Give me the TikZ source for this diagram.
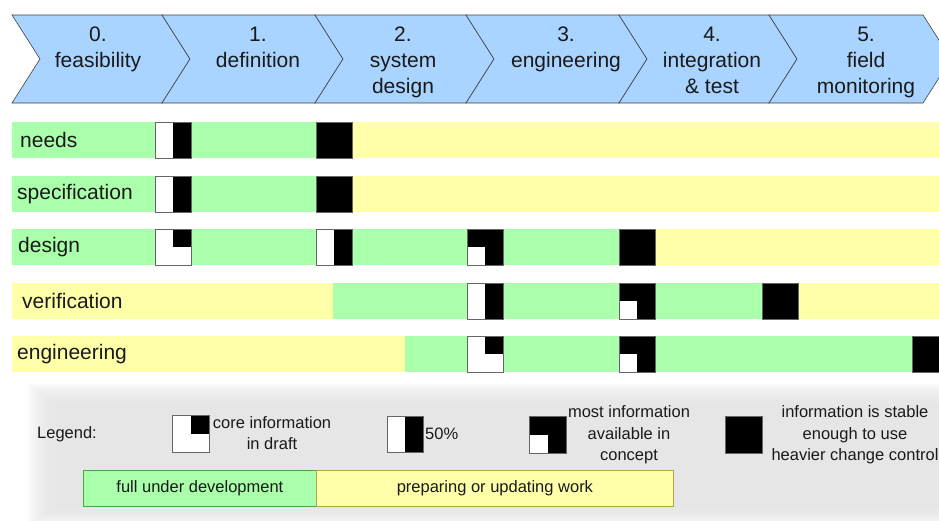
\documentclass[tikz,border=0pt]{standalone}
\usepackage{fontspec}
\setmainfont{Liberation Sans}
\definecolor{chev}{HTML}{A8D4FF}
\definecolor{gbar}{HTML}{AAFFAA}
\definecolor{ybar}{HTML}{FFFFAA}
\definecolor{txt}{HTML}{1A1A1A}
\definecolor{gborder}{HTML}{44AA44}
\definecolor{yborder}{HTML}{AAAA44}
\begin{document}
\begin{tikzpicture}[x=1pt,y=-1pt,
  chevron/.style={fill=chev, draw=black!75, line width=0.6pt, line join=miter},
  chevtext/.style={anchor=north, align=center, inner sep=0pt, text=txt, font=\fontsize{21}{26}\selectfont},
  rowlabel/.style={anchor=west, inner sep=0pt, text=txt, font=\fontsize{21}{26}\selectfont},
  legtext/.style={inner sep=0pt, text=txt, align=center, font=\fontsize{16.5}{21.5}\selectfont},
  gseg/.style={fill=gbar},
  yseg/.style={fill=ybar},
  mk/.style={rectangle, minimum width=36pt, minimum height=36pt, inner sep=0pt, draw=black!60, line width=0.7pt},
  mkfull/.style={mk, fill=black},
  mkhalf/.style={mk, fill=white, path picture={\fill[black] (path picture bounding box.north) rectangle (path picture bounding box.south east);}},
  mkcore/.style={mk, fill=white, path picture={\fill[black] (path picture bounding box.center) rectangle (path picture bounding box.north east);}},
  mkmost/.style={mk, fill=black, path picture={\fill[white] (path picture bounding box.center) rectangle (path picture bounding box.south west);}},
  legbar/.style={anchor=north west, minimum height=36pt, inner sep=0pt, line width=0.8pt, text=txt, font=\fontsize{16.5}{21}\selectfont}
]
\useasboundingbox (0,0) rectangle (939,520);
\clip (0,0) rectangle (939,520);

% chevrons
\foreach \a/\b in {12/162,162/315,315/466,466/619,619/769,769/923}
  \draw[chevron] (\a,15) -- (\b,15) -- (\b+28,59) -- (\b,103) -- (\a,103) -- (\a+28,59) -- cycle;
\node[chevtext] (c0) at (98,27) {0.\\feasibility};
\node[chevtext] (c1) at (258,27) {1.\\definition};
\node[chevtext] (c2) at (403,27) {2.\\system\\design};
\node[chevtext] (c3) at (566,27) {3.\\engineering};
\node[chevtext] (c4) at (712,27) {4.\\integration\\\&~test};
\node[chevtext] (c5) at (866,27) {5.\\field\\monitoring};

% row bars
\fill[gseg] (12,122) rectangle (334,158);
\fill[yseg] (334,122) rectangle (939,158);
\fill[gseg] (12,176) rectangle (334,212);
\fill[yseg] (334,176) rectangle (939,212);
\fill[gseg] (12,229) rectangle (637,265);
\fill[yseg] (637,229) rectangle (939,265);
\fill[yseg] (12,283) rectangle (333,319);
\fill[gseg] (333,283) rectangle (780,319);
\fill[yseg] (780,283) rectangle (939,319);
\fill[yseg] (12,336) rectangle (405,372);
\fill[gseg] (405,336) rectangle (939,372);

% row labels
\node[rowlabel] (rneeds) at (20,140) {needs};
\node[rowlabel] (rspec) at (17,194) {specification};
\node[rowlabel] (rdesign) at (18,247) {design};
\node[rowlabel] (rverif) at (22,301) {verification};
\node[rowlabel] (reng) at (17,354) {engineering};

% markers
\node[mkhalf] (n1) at (173,140) {};
\node[mkfull] (n2) at (334,140) {};
\node[mkhalf] (s1) at (173,194) {};
\node[mkfull] (s2) at (334,194) {};
\node[mkcore] (d1) at (173,247) {};
\node[mkhalf] (d2) at (334,247) {};
\node[mkmost] (d3) at (485,247) {};
\node[mkfull] (d4) at (637,247) {};
\node[mkhalf] (v1) at (485,301) {};
\node[mkmost] (v2) at (637,301) {};
\node[mkfull] (v3) at (780,301) {};
\node[mkcore] (e1) at (485,354) {};
\node[mkmost] (e2) at (637,354) {};
\node[mkfull] (e3) at (930,354) {};

% legend background (soft edges)
\foreach \k in {0,...,11}
  \fill[black!11, opacity=0.17] (28+\k*2.5,384+\k*2) rectangle (960,524-\k*1.5);

% legend
\node[legtext, anchor=west] (lg) at (37,434) {Legend:};
\node[mkcore, minimum width=37pt, minimum height=37pt] (l1) at (190.5,433.5) {};
\node[legtext] (l1t) at (272,433) {core information\\in draft};
\node[mkhalf] (l2) at (405,434) {};
\node[legtext, anchor=west] (l2t) at (425,434) {50\%};
\node[mkmost, minimum width=37pt, minimum height=37pt] (l3) at (547.5,434.5) {};
\node[legtext] (l3t) at (629,435) {most information\\available in\\concept};
\node[mkfull, minimum width=37pt, minimum height=37pt] (l4) at (744,434.5) {};
\node[legtext] (l4t) at (855,435) {information is stable\\enough to use\\heavier change control};

\node[legbar, minimum width=233pt, fill=gbar, draw=gborder] (lgreen) at (83,470) {full under development};
\node[legbar, minimum width=357pt, fill=ybar, draw=yborder] (lyellow) at (316,470) {preparing or updating work};
\end{tikzpicture}
\end{document}
